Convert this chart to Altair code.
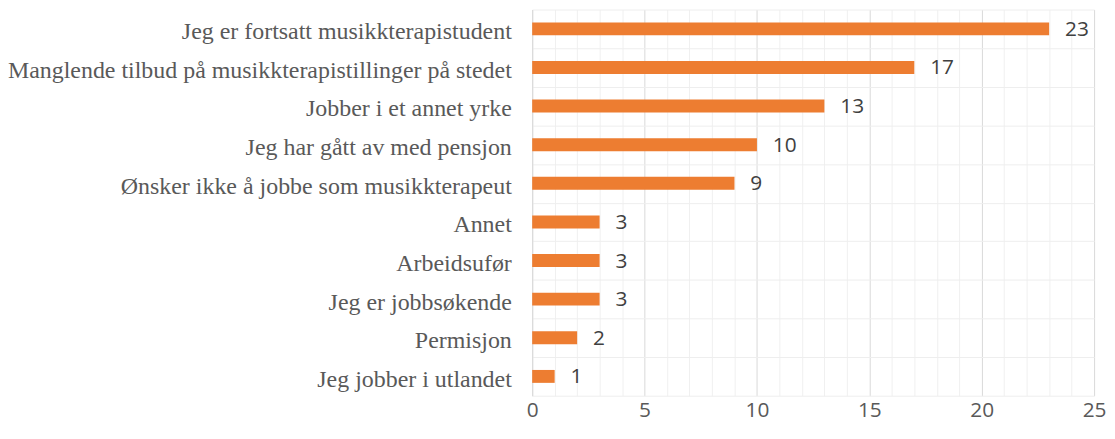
import altair as alt
import pandas as pd

categories = [
    "Jeg er fortsatt musikkterapistudent",
    "Manglende tilbud på musikkterapistillinger på stedet",
    "Jobber i et annet yrke",
    "Jeg har gått av med pensjon",
    "Ønsker ikke å jobbe som musikkterapeut",
    "Annet",
    "Arbeidsufør",
    "Jeg er jobbsøkende",
    "Permisjon",
    "Jeg jobber i utlandet",
]
values = [23, 17, 13, 10, 9, 3, 3, 3, 2, 1]
x_ticks = list(range(0, 26))

df = pd.DataFrame({"kategori": categories, "antall": values})

y_enc = alt.Y(
    "kategori:N",
    sort=categories,
    title=None,
    scale=alt.Scale(paddingInner=0, paddingOuter=0),
    axis=alt.Axis(
        labelFont="Liberation Serif",
        labelFontSize=24.1,
        labelColor="#595959",
        labelPadding=21,
        labelLimit=0,
        labelOffset=3,
        ticks=False,
        domain=True,
        domainColor="#d9d9d9",
        domainWidth=1,
        grid=True,
        gridColor="#eeeeee",
        gridWidth=1,
        tickBand="extent",
    ),
)

x_enc = alt.X(
    "antall:Q",
    title=None,
    scale=alt.Scale(domain=[0, 25], nice=False),
    axis=alt.Axis(
        values=x_ticks,
        labelExpr="datum.value % 5 === 0 ? datum.label : ''",
        labelFont="Open Sans",
        labelFontSize=21,
        labelColor="#595959",
        labelPadding=4,
        labelFlush=False,
        ticks=False,
        domain=False,
        grid=True,
        gridColor={"condition": {"test": "datum.value % 5 === 0", "value": "#d9d9d9"}, "value": "#f0f0f0"},
        gridWidth=1,
    ),
)

base = alt.Chart(df).encode(x=x_enc, y=y_enc)

bars = base.mark_bar(color="#ED7D31", size=13)
text = base.mark_text(
    align="left",
    baseline="middle",
    dx=16,
    dy=1,
    font="Open Sans",
    fontSize=21,
    color="#404040",
).encode(text="antall:Q")

chart = (
    alt.layer(bars, text)
    .properties(
        width=566,
        height=389,
        padding={"left": 528, "top": 0, "right": 13, "bottom": 34},
        autosize=alt.AutoSizeParams(type="none"),
    )
    .configure_view(strokeWidth=0)
)

chart.save("out.html", embed_options={"renderer": "svg", "actions": False})
